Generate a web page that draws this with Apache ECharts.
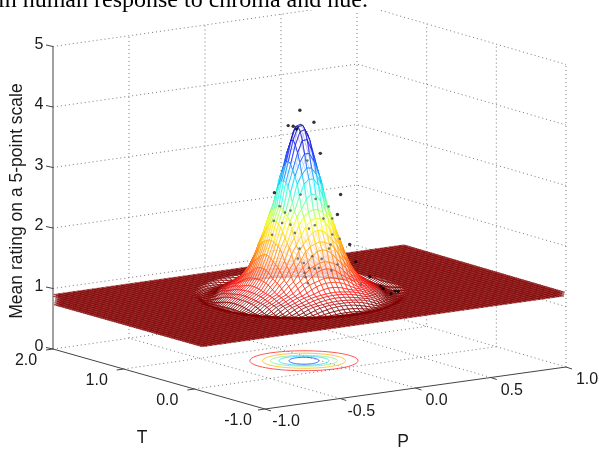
<!DOCTYPE html>
<html><head><meta charset="utf-8">
<style>html,body{margin:0;padding:0;background:#fff}#c{width:599px;height:452px}</style>
<script src="https://cdn.jsdelivr.net/npm/echarts@6/dist/echarts.min.js"></script>
</head><body><div id="c"></div>
<script>
// ---------- chart values ----------
var headingText = 'in human response to chroma and hue.';
var zTitle = 'Mean rating on a 5-point scale';
var tTitle = 'T', pTitle = 'P';
var zTicks = [0, 1, 2, 3, 4, 5];
var tTicks = [-1, 0, 1, 2];
var pTicks = [-1, -0.5, 0, 0.5, 1];
var tTickLabels = ['-1.0', '0.0', '1.0', '2.0'];
var pTickLabels = ['-1.0', '-0.5', '0.0', '0.5', '1.0'];

// fitted surface: plate extent and radial profile of the bump
var surfP = [-1.06, 1.4];
var surfT = [-0.24, 2.2];
var plateZ = 0.8;
var rhoStops = [0, 0.05, 0.09, 0.13, 0.2, 0.3, 0.42, 0.49, 0.57, 0.68, 0.82, 0.95, 1.03, 1.12, 1.3];
var zStops   = [3.62, 3.57, 3.42, 3.18, 2.8, 2.22, 1.71, 1.42, 1.18, 1.0, 0.88, 0.75, 0.74, 0.8, 0.8];

// colour by height (reversed jet)
var colorZ = [0.8, 0.98, 2.0, 2.25, 2.55, 3.2, 3.6];
var colorRGB = [[128,0,0],[255,0,0],[255,255,0],[128,255,128],[0,255,255],[0,0,255],[0,0,128]];

// floor contours
var contourCenterP = -0.074, contourCenterT = 0.43;
var contourHalfP = [0.358, 0.275, 0.222, 0.166, 0.099];
var contourHalfT = [0.066, 0.05, 0.036, 0.03, 0.023];
var contourColors = ['#ff4040', '#ffc030', '#90f090', '#40e0f0', '#3050ff'];

// raters' mean scores: P and rating (shown at T = 1)
var blackP = [0.163,0.086,0.119,0.141,0.256,0.298,0.432,-0.005,0.411,0.492,0.532,0.625,0.697,0.713,0.792,0.812,0.764];
var blackZ = [3.866,3.640,3.617,3.565,3.635,3.107,2.379,2.564,2.056,1.532,1.231,0.952,0.772,0.727,0.656,0.640,0.623];
var greyP = [0.212,0.168,0.267,0.030,0.353,0.064,0.101,-0.009,0.046,0.101,-0.020,0.130,0.223,0.262,0.318,0.377,0.377,0.426,0.366,0.355,0.161,0.245,0.307,0.150,0.189,0.223,0.260,0.289,0.411,0.371,0.194,0.201,0.216,0.565];
var greyZ = [3.017,2.471,2.365,2.326,2.208,2.210,2.230,2.102,2.045,1.998,1.874,1.851,1.889,1.931,2.021,2.002,1.737,1.650,1.575,1.512,1.580,1.425,1.360,1.420,1.334,1.240,1.215,1.217,1.230,1.144,1.167,1.093,0.988,0.845];
var dotT = 1;

// ---------- projection of the 3-D box onto the picture ----------
var cA = [53, 349], cB = [265, 409], cC = [566, 367], cD = [357, 306]; // floor corners
var zScale = 60.5;
function proj(P, T, z) {
  var u = (P + 1) / 2, v = (T + 1) / 3;
  var x = cB[0] + u * (cC[0] - cB[0]) + v * (cA[0] - cB[0]) + u * v * (cD[0] - cC[0] - cA[0] + cB[0]);
  var y = cB[1] + u * (cC[1] - cB[1]) + v * (cA[1] - cB[1]) + u * v * (cD[1] - cC[1] - cA[1] + cB[1]);
  return [x, y - z * zScale];
}
function lerpTable(xs, ys, x) {
  if (x <= xs[0]) return ys[0];
  for (var i = 1; i < xs.length; i++) if (x <= xs[i]) {
    var t = (x - xs[i - 1]) / (xs[i] - xs[i - 1]);
    t = t * t * (3 - 2 * t) * 0.5 + t * 0.5;
    return ys[i - 1] + t * (ys[i] - ys[i - 1]);
  }
  return ys[ys.length - 1];
}
function colorAt(z) {
  if (z <= colorZ[0]) return colorRGB[0];
  for (var i = 1; i < colorZ.length; i++) if (z <= colorZ[i]) {
    var t = (z - colorZ[i - 1]) / (colorZ[i] - colorZ[i - 1]);
    return [0, 1, 2].map(function (k) { return colorRGB[i - 1][k] + t * (colorRGB[i][k] - colorRGB[i - 1][k]); });
  }
  return colorRGB[colorRGB.length - 1];
}

// ---------- surface mesh ----------
var N = 78, M = 78, bumpX = 300, bumpY = 294, bumpA = 94, bumpB = 21;
var clipLeft = 53, clipRight = 566;
function surfZ(P, T) {
  var g = proj(P, T, plateZ);
  var dx = (g[0] - bumpX) / bumpA, dy = (g[1] - bumpY) / bumpB;
  return lerpTable(rhoStops, zStops, Math.sqrt(dx * dx + dy * dy));
}
var faces = [];
(function () {
  var vtx = [];
  for (var i = 0; i <= N; i++) { vtx.push([]);
    for (var j = 0; j <= M; j++) {
      var P = surfP[0] + (surfP[1] - surfP[0]) * i / N, T = surfT[0] + (surfT[1] - surfT[0]) * j / M;
      var z = surfZ(P, T);
      vtx[i].push({ s: proj(P, T, z), z: z, d: proj(P, T, 0)[1] });
    }
  }
  for (i = 0; i < N; i++) for (j = 0; j < M; j++) {
    var q = [vtx[i][j], vtx[i + 1][j], vtx[i + 1][j + 1], vtx[i][j + 1]];
    var inside = q.every(function (o) { return o.s[0] >= clipLeft && o.s[0] <= clipRight; });
    if (!inside) continue;
    var zm = (q[0].z + q[1].z + q[2].z + q[3].z) / 4, c = colorAt(zm);
    var flat = zm < plateZ + 0.005;
    faces.push({ pts: q.map(function (o) { return o.s; }), depth: (q[0].d + q[1].d + q[2].d + q[3].d) / 4,
      fill: flat ? 'rgba(255,255,255,0.1)' : 'rgba(255,255,255,0.7)', width: flat ? 0.62 : 0.6,
      color: 'rgb(' + c.map(Math.round).join(',') + ')' });
  }
  faces.sort(function (a, b) { return a.depth - b.depth; });
})();

// ---------- box lines ----------
var dotted = [], solid = [];
zTicks.forEach(function (z) {
  dotted.push({ pts: [proj(-1, 2, z), proj(1, 2, z), proj(1, -1, z)] });
});
pTicks.slice(1, 4).forEach(function (p) {
  dotted.push({ pts: [proj(p, -1, 0), proj(p, 2, 0), proj(p, 2, 5)] });
});
tTicks.slice(1, 3).forEach(function (t) {
  dotted.push({ pts: [proj(-1, t, 0), proj(1, t, 0), proj(1, t, 5)] });
});
dotted.push({ pts: [proj(1, 2, 0), proj(1, 2, 5)] });
dotted.push({ pts: [proj(1, -1, 0), proj(1, -1, 5)] });
solid.push({ pts: [proj(-1, 2, 5), proj(-1, 2, 0), proj(-1, -1, 0), proj(1, -1, 0)] });
zTicks.forEach(function (z) { var a = proj(-1, 2, z); solid.push({ pts: [a, [a[0] - 7, a[1] - 1.5]] }); });
tTicks.forEach(function (t) { var a = proj(-1, t, 0); solid.push({ pts: [a, [a[0] - 7, a[1] + 1]] }); });
pTicks.forEach(function (p) { var a = proj(p, -1, 0); solid.push({ pts: [a, [a[0] + 6, a[1] + 2]] }); });

var contours = contourHalfP.map(function (hp, k) {
  var c = proj(contourCenterP, contourCenterT, 0), pts = [];
  for (var i = 0; i <= 72; i++) {
    var a = i / 72 * 2 * Math.PI;
    pts.push([c[0] + hp * 151 * Math.cos(a), c[1] + contourHalfT[k] * 151 * Math.sin(a)]);
  }
  return { pts: pts, color: contourColors[k] };
});

// ---------- texts ----------
var SANS = '"Liberation Sans", Arial, sans-serif';
var texts = [];
function addText(t, x, y, size, extra) {
  texts.push(Object.assign({ pts: [], text: t, x: x, y: y, size: size, family: SANS, rot: 0 }, extra || {}));
}
zTicks.forEach(function (z) { var a = proj(-1, 2, z); addText(String(z), a[0] - 14, a[1] - 2, 16); });
tTicks.forEach(function (t, i) { var a = proj(-1, t, 0); addText(tTickLabels[i], a[0] - 27, a[1] + 11.5, 16); });
pTicks.forEach(function (p, i) { var a = proj(p, -1, 0); addText(pTickLabels[i], a[0] + 21, a[1] + 13, 16); });
addText(zTitle, 17, 201, 17.5, { rot: Math.PI / 2 });
addText(tTitle, 142, 438, 17.5);
addText(pTitle, 403, 442, 17.5);

function polySeries(items, z, styleOf) {
  return { type: 'custom', coordinateSystem: 'cartesian2d', silent: true, clip: false, z: z,
    progressive: 0, animation: false, data: items.map(function (_, i) { return [i]; }),
    renderItem: function (params, api) {
      var it = items[params.dataIndex];
      var pts = it.pts.map(function (p) { return api.coord(p); });
      return styleOf(it, pts, api);
    } };
}

var option = {
  animation: false,
  grid: { left: 0, right: 0, top: 0, bottom: 0 },
  xAxis: { type: 'value', min: 0, max: 599, show: false },
  yAxis: { type: 'value', min: 0, max: 452, inverse: true, show: false },
  series: [
    polySeries(dotted, 1, function (it, pts) {
      return { type: 'polyline', shape: { points: pts }, style: { fill: null, stroke: '#555', lineWidth: 0.8, lineDash: [1, 3] } };
    }),
    polySeries(contours, 2, function (it, pts) {
      return { type: 'polyline', shape: { points: pts }, style: { fill: null, stroke: it.color, lineWidth: 0.9 } };
    }),
    polySeries(faces, 3, function (it, pts) {
      return { type: 'polygon', shape: { points: pts }, style: { fill: it.fill, stroke: it.color, lineWidth: it.width } };
    }),
    { type: 'scatter', z: 4, silent: true, animation: false, symbolSize: 2.6, itemStyle: { color: '#555' }, clip: false,
      data: greyP.map(function (p, i) { return proj(p, dotT, greyZ[i]); }) },
    { type: 'scatter', z: 5, silent: true, animation: false, symbolSize: 3.4, itemStyle: { color: '#000' }, clip: false,
      data: blackP.map(function (p, i) { return proj(p, dotT, blackZ[i]); }) },
    polySeries(solid, 6, function (it, pts) {
      return { type: 'polyline', shape: { points: pts }, style: { fill: null, stroke: '#444', lineWidth: 1 } };
    }),
    polySeries(texts, 7, function (it, pts, api) {
      var c = api.coord([it.x, it.y]);
      return { type: 'text', x: c[0], y: c[1], rotation: it.rot,
        style: { text: it.text, x: 0, y: 0, fontSize: it.size, fontFamily: it.family, fill: '#1a1a1a', textAlign: 'center', textVerticalAlign: 'middle' } };
    })
  ],
  graphic: [
    { type: 'rect', z: 100, shape: { x: 0, y: 0, width: 599, height: 10 }, style: { fill: '#fff' } },
    { type: 'text', z: 101, x: -2, y: 0, style: { text: headingText, x: 0, y: 13, fontSize: 24, fontFamily: '"Liberation Serif", "Times New Roman", serif', fill: '#000', textAlign: 'left', textVerticalAlign: 'bottom' } }
  ]
};
var chart = echarts.init(document.getElementById('c'), null, { renderer: 'canvas' });
chart.setOption(option);
</script>
</body></html>
